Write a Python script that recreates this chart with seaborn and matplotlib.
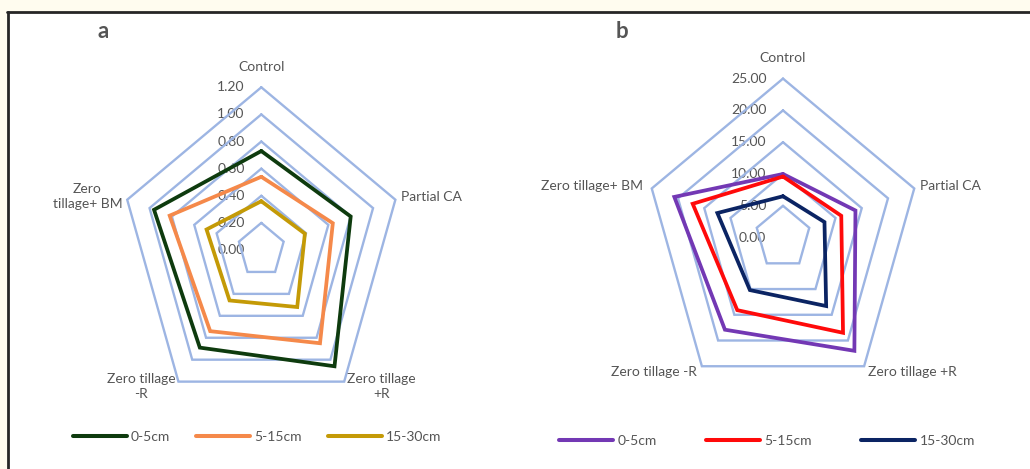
import numpy as np
import pandas as pd
import matplotlib
matplotlib.use("Agg")
import matplotlib.pyplot as plt
import seaborn as sns
from matplotlib.lines import Line2D
from matplotlib.patches import Rectangle

# ---- data -----------------------------------------------------------------
categories_a = ["Control", "Partial CA", "Zero tillage\n+R", "Zero tillage\n-R", "Zero\ntillage+ BM"]
categories_b = ["Control", "Partial CA", "Zero tillage +R", "Zero tillage -R", "Zero tillage+ BM"]
depths = ["0-5cm", "5-15cm", "15-30cm"]

a_0_5 = [0.73, 0.80, 1.06, 0.89, 0.96]
a_5_15 = [0.54, 0.64, 0.85, 0.74, 0.82]
a_15_30 = [0.36, 0.39, 0.52, 0.46, 0.49]

b_0_5 = [10.0, 13.8, 22.0, 17.9, 20.7]
b_5_15 = [9.6, 11.1, 18.5, 14.1, 17.2]
b_15_30 = [6.5, 7.9, 13.3, 10.2, 12.5]

ticks_a = [0.0, 0.2, 0.4, 0.6, 0.8, 1.0, 1.2]
ticks_b = [0.0, 5.0, 10.0, 15.0, 20.0, 25.0]

# ---- style ----------------------------------------------------------------
sns.set_theme(style="white")
FONT = ["Lato", "DejaVu Sans"]
plt.rcParams["font.family"] = FONT
TXT = "#555555"
GRID = "#9DB5E3"
colors_a = ["#0E3B0E", "#F5894A", "#C49A06"]
colors_b = ["#7338B4", "#FF0A0A", "#0B2463"]
FS = 10

W, H = 1030, 469
fig = plt.figure(figsize=(W / 100, H / 100), dpi=100, facecolor="#FFFCEF")


def fx(px):
    return px / W


def fy(py):
    return 1 - py / H


# white panel with dark frame on top and left
fig.patches.append(Rectangle((fx(8), 0), 1 - fx(8), fy(13), transform=fig.transFigure,
                             facecolor="white", edgecolor="none", zorder=-5))
fig.lines.append(Line2D([fx(7), 1], [fy(12.5), fy(12.5)], transform=fig.transFigure,
                        color="#262626", lw=2.0, zorder=-4))
fig.lines.append(Line2D([fx(8), fx(8)], [0, fy(12)], transform=fig.transFigure,
                        color="#262626", lw=2.0, zorder=-4))

angles = np.deg2rad(90 - 72 * np.arange(5))


def radar(ax_px, center, radii, series, ticks, colors, cats, fmt, cat_offsets, cat_align):
    x0, x1 = ax_px
    cx, cy = center
    rx, ry = radii
    ax = fig.add_axes([fx(x0), 0, fx(x1) - fx(x0), 1])
    ax.set_facecolor("none")

    vmax = ticks[-1]
    cos_a = np.append(np.cos(angles), np.cos(angles[0]))
    sin_a = np.append(np.sin(angles), np.sin(angles[0]))

    # pentagon grid
    for t in ticks[1:]:
        r = t / vmax
        ax.plot(r * cos_a, r * sin_a, color=GRID, lw=1.7, zorder=1,
                solid_joinstyle="miter")

    # radial value labels along the Control axis
    for t in ticks:
        ax.annotate(fmt.format(t), xy=(0, t / vmax), xytext=(-12, 0),
                    textcoords="offset points", ha="right", va="center",
                    fontsize=FS, color=TXT, zorder=0.5)

    # data polygons
    rows = []
    for name, vals in zip(depths, series):
        v = np.append(vals, vals[0]) / vmax
        for i, r in enumerate(v):
            rows.append({"depth": name, "order": i,
                         "x": r * cos_a[i], "y": r * sin_a[i]})
    df = pd.DataFrame(rows)
    sns.lineplot(data=df, x="x", y="y", hue="depth", hue_order=depths,
                 palette=colors, sort=False, estimator=None, lw=2.7,
                 legend=False, ax=ax, zorder=3, solid_joinstyle="miter")
    ax.set_xlim((x0 - cx) / rx, (x1 - cx) / rx)
    ax.set_ylim((cy - H) / ry, cy / ry)
    ax.axis("off")

    # category labels
    for k, cat in enumerate(cats):
        ax.annotate(cat, xy=(cos_a[k], sin_a[k]), xytext=cat_offsets[k],
                    textcoords="offset points", ha=cat_align[k], va="center",
                    multialignment="center", fontsize=FS, color=TXT,
                    linespacing=1.3, zorder=2)
    return ax


PT = 0.72  # points per pixel at 100 dpi

radar((0, 515), (261.3, 250.0), (141.0, 162.7), [a_0_5, a_5_15, a_15_30],
      ticks_a, colors_a, categories_a, "{:.2f}",
      [(0, 20 * PT), (6 * PT, 3 * PT), (3 * PT, -4.5 * PT), (-3 * PT, -4.5 * PT), (-5 * PT, 3.5 * PT)],
      ["center", "left", "left", "right", "right"])

radar((515, 1030), (783.0, 237.6), (138.0, 159.0), [b_0_5, b_5_15, b_15_30],
      ticks_b, colors_b, categories_b, "{:.2f}",
      [(0, 20.5 * PT), (6 * PT, 2.5 * PT), (4 * PT, -6 * PT), (-5 * PT, -6 * PT), (-9 * PT, 2.5 * PT)],
      ["center", "left", "left", "right", "right"])

# panel letters
fig.text(fx(98), fy(31), "a", fontsize=16, fontweight="bold", color=TXT, va="center")
fig.text(fx(616), fy(31), "b", fontsize=16, fontweight="bold", color=TXT, va="center")

# legends
for cols, xc, yc, spacing in [(colors_a, 257, 437, 1.85), (colors_b, 767, 441, 3.55)]:
    handles = [Line2D([], [], color=c, lw=2.9) for c in cols]
    fig.legend(handles, depths, loc="center", bbox_to_anchor=(fx(xc), fy(yc)),
               ncol=3, frameon=False, fontsize=FS, handlelength=3.9,
               handletextpad=0.3, columnspacing=spacing, labelcolor=TXT)

fig.savefig("out.png", dpi=100, facecolor=fig.get_facecolor())
